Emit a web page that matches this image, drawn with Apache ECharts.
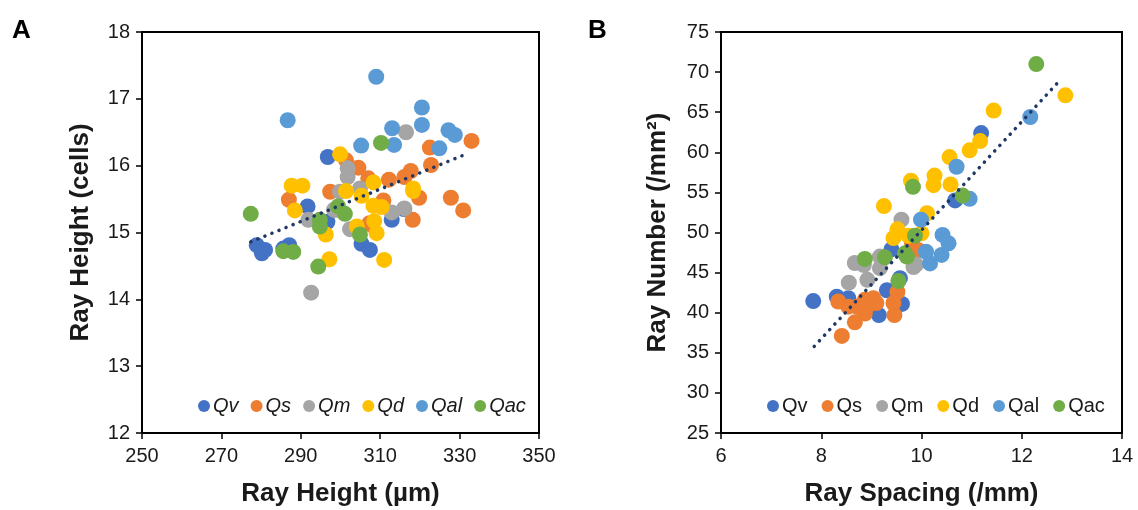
<!DOCTYPE html>
<html>
<head>
<meta charset="utf-8">
<script src="https://cdn.jsdelivr.net/npm/echarts@6/dist/echarts.min.js"></script>
<style>
  html, body { margin: 0; padding: 0; background: #fff; }
  #chart { width: 1138px; height: 510px; }
</style>
</head>
<body>
<div id="chart"></div>
<script>
// group names and colours
const groups = ["Qv", "Qs", "Qm", "Qd", "Qal", "Qac"];
const colors = ["#4472C4", "#ED7D31", "#A5A5A5", "#FFC000", "#5B9BD5", "#70AD47"];

// Panel A: ray height (µm) vs ray height (cells)
const heightQv = [[296.8, 16.13], [291.7, 15.39], [296.7, 15.16], [278.9, 14.81], [281.0, 14.74], [280.2, 14.69],
    [287.1, 14.81], [285.6, 14.76], [312.9, 15.19], [305.3, 14.83], [307.4, 14.74], [316.0, 15.35]];
const heightQs = [[301.4, 16.08], [304.5, 15.97], [307.0, 15.81], [312.2, 15.79], [333.0, 16.37], [322.5, 16.27],
    [322.8, 16.01], [317.7, 15.92], [316.1, 15.83], [287.0, 15.49], [297.4, 15.61], [310.8, 15.48],
    [307.9, 15.11], [319.8, 15.52], [327.8, 15.52], [330.9, 15.33], [318.2, 15.19], [307.3, 15.14]];
const heightQm = [[301.8, 15.96], [301.8, 15.83], [316.5, 16.50], [291.9, 15.19], [292.6, 14.10], [299.9, 15.61],
    [304.9, 15.66], [299.0, 15.34], [312.9, 15.30], [302.4, 15.05], [316.1, 15.36], [298.4, 15.34]];
const heightQd = [[299.9, 16.17], [308.3, 15.75], [287.7, 15.70], [290.4, 15.70], [318.3, 15.66], [288.5, 15.33],
    [296.3, 14.97], [297.2, 14.60], [301.4, 15.62], [305.3, 15.55], [308.3, 15.40], [310.4, 15.38],
    [304.1, 15.09], [308.5, 15.17], [309.1, 14.99], [311.0, 14.59], [318.3, 15.62]];
const heightQal = [[309.0, 17.33], [286.7, 16.68], [313.0, 16.56], [305.2, 16.30], [313.5, 16.31], [320.5, 16.87],
    [320.5, 16.61], [327.2, 16.53], [328.8, 16.46], [324.9, 16.26]];
const heightQac = [[310.2, 16.34], [277.4, 15.28], [294.8, 15.19], [294.8, 15.09], [285.6, 14.72], [288.1, 14.71],
    [294.4, 14.49], [299.4, 15.39], [301.1, 15.28], [304.9, 14.97]];
const trendA = [[277.4, 14.86], [331.5, 16.17]];

// Panel B: ray spacing (/mm) vs ray number (/mm²)
const numberQv = [[11.19, 62.4], [10.67, 54.0], [7.84, 41.45], [8.31, 42.0], [8.54, 41.8], [9.40, 47.9],
    [9.57, 44.3], [9.61, 41.1], [9.31, 42.8], [9.15, 39.7]];
const numberQs = [[8.34, 41.4], [8.41, 37.1], [8.67, 38.8], [9.81, 48.65], [9.94, 47.8], [9.52, 42.6],
    [9.46, 39.7], [9.10, 41.2], [8.87, 41.6], [8.91, 40.75], [8.71, 40.75], [8.87, 39.9],
    [8.54, 40.75], [9.44, 41.2], [9.04, 41.8]];
const numberQm = [[9.60, 51.6], [8.55, 43.75], [8.67, 46.2], [8.92, 44.1], [8.85, 45.95], [9.17, 47.0],
    [9.17, 45.55], [9.89, 46.0], [9.84, 45.7]];
const numberQd = [[12.87, 67.1], [11.44, 65.2], [11.17, 61.4], [10.96, 60.25], [10.56, 59.4], [9.79, 56.45],
    [10.26, 57.1], [10.24, 55.9], [10.58, 56.0], [9.25, 53.3], [10.11, 52.4], [9.52, 50.4],
    [9.44, 49.3], [9.74, 49.6], [10.0, 49.9]];
const numberQal = [[12.17, 64.4], [10.70, 58.2], [10.96, 54.2], [9.99, 51.6], [10.09, 47.6], [10.17, 46.15],
    [10.42, 49.7], [10.54, 48.65], [10.40, 47.2]];
const numberQac = [[12.29, 71.0], [9.83, 55.7], [10.82, 54.6], [8.87, 46.7], [9.27, 46.9], [9.87, 49.6],
    [9.67, 47.4], [9.71, 47.0], [9.54, 43.95]];
const trendB = [[7.86, 35.8], [12.78, 69.1]];

const heightData = [heightQv, heightQs, heightQm, heightQd, heightQal, heightQac];
const numberData = [numberQv, numberQs, numberQm, numberQd, numberQal, numberQac];

const font = "'Liberation Sans', Arial, sans-serif";
const textColor = "#1a1a1a";

function valueAxis(gridIndex, min, max, interval, name, nameGap, isY) {
    return {
        type: "value",
        gridIndex: gridIndex,
        min: min,
        max: max,
        interval: interval,
        name: name,
        nameLocation: "middle",
        nameGap: nameGap,
        nameRotate: isY ? 90 : 0,
        nameTextStyle: { fontFamily: font, fontSize: 26, fontWeight: "bold", color: textColor },
        axisLine: { show: true, lineStyle: { color: "#000", width: 2 } },
        axisTick: { show: true, inside: false, length: 6, lineStyle: { color: "#000", width: 1.5 } },
        axisLabel: { fontFamily: font, fontSize: 20, color: textColor, margin: isY ? 12 : 13 },
        splitLine: { show: false },
    };
}

function scatterSeries(dataSets, axisIndex) {
    return dataSets.map((d, i) => ({
        name: groups[i],
        type: "scatter",
        xAxisIndex: axisIndex,
        yAxisIndex: axisIndex,
        symbolSize: 16,
        itemStyle: { color: colors[i], opacity: 1 },
        data: d,
        z: 3,
    }));
}

function trendSeries(data, axisIndex) {
    return {
        name: "trend",
        type: "line",
        xAxisIndex: axisIndex,
        yAxisIndex: axisIndex,
        symbol: "none",
        lineStyle: { color: "#203864", width: 3.5, type: [0.1, 7.5], cap: "round" },
        data: data,
        z: 4,
        silent: true,
    };
}

const chart = echarts.init(document.getElementById("chart"), null, { renderer: "canvas" });

const options = {
    animation: false,
    textStyle: { fontFamily: font },
    title: [
        { text: "A", left: 7, top: 13, textStyle: { fontFamily: font, fontSize: 26, fontWeight: "bold", color: "#000" } },
        { text: "B", left: 583, top: 13, textStyle: { fontFamily: font, fontSize: 26, fontWeight: "bold", color: "#000" } },
    ],
    grid: [
        { left: 142, top: 32, width: 397, height: 401, show: true, borderColor: "#000", borderWidth: 2, outerBoundsMode: "none" },
        { left: 721, top: 32, width: 401, height: 401, show: true, borderColor: "#000", borderWidth: 2, outerBoundsMode: "none" },
    ],
    xAxis: [
        valueAxis(0, 250, 350, 20, "Ray Height (µm)", 48, false),
        valueAxis(1, 6, 14, 2, "Ray Spacing (/mm)", 48, false),
    ],
    yAxis: [
        valueAxis(0, 12, 18, 1, "Ray Height (cells)", 48, true),
        valueAxis(1, 25, 75, 5, "Ray Number (/mm²)", 50, true),
    ],
    legend: [
        {
            data: groups,
            left: 193,
            top: 391,
            itemWidth: 12,
            itemHeight: 12,
            itemGap: 12,
            icon: "circle",
            textStyle: { fontFamily: font, fontSize: 20, fontStyle: "italic", color: textColor, padding: [0, 0, 0, -2] },
        },
        {
            data: groups,
            left: 762,
            top: 391,
            itemWidth: 12,
            itemHeight: 12,
            itemGap: 14,
            icon: "circle",
            textStyle: { fontFamily: font, fontSize: 20, color: textColor, padding: [0, 0, 0, -2] },
        },
    ],
    series: [
        ...scatterSeries(heightData, 0),
        trendSeries(trendA, 0),
        ...scatterSeries(numberData, 1),
        trendSeries(trendB, 1),
    ],
};

chart.setOption(options);
</script>
</body>
</html>
